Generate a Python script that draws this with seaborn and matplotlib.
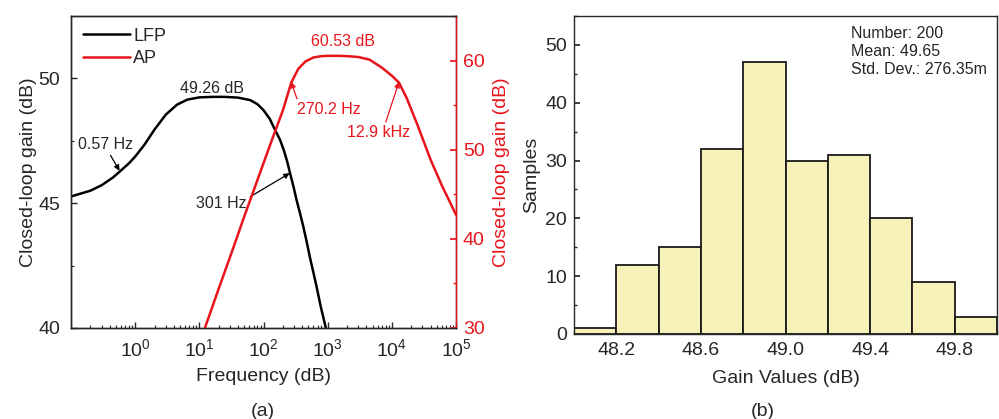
import matplotlib
matplotlib.use('Agg')
import matplotlib.pyplot as plt
import seaborn as sns
import numpy as np
from matplotlib.ticker import LogLocator, NullFormatter, MultipleLocator, FixedLocator

sns.set_theme(style='ticks')
plt.rcParams['font.family'] = ['Liberation Sans', 'DejaVu Sans']

# (a) closed-loop gain
lfp_freq = [0.1, 0.2, 0.3, 0.45, 0.57, 0.8, 1.0, 1.4, 2.0, 3.0, 4.5, 6.5, 10, 16, 25, 40,
            62, 80, 99, 125, 151, 180, 206, 232, 259, 292, 327, 370, 417, 470, 525, 595,
            670, 780, 935]
lfp_gain = [45.27, 45.5, 45.72, 46.03, 46.26, 46.6, 46.87, 47.35, 47.95, 48.55, 48.95, 49.15,
            49.24, 49.26, 49.26, 49.23, 49.13, 48.97, 48.74, 48.38, 47.94, 47.55, 47.14,
            46.7, 46.2, 45.68, 45.13, 44.6, 44.06, 43.46, 42.86, 42.25, 41.66, 40.85, 40.0]
ap_freq = [12.2, 20, 35, 50, 75, 100, 140, 200, 270.2, 350, 450, 600, 800, 1000, 1500,
           2000, 3000, 4500, 7000, 10000, 12900, 17000, 25000, 40000, 60000, 100000]
ap_gain = [30.0, 34.4, 39.3, 42.5, 46.0, 48.5, 51.4, 54.4, 57.53, 59.1, 59.9, 60.35, 60.5,
           60.53, 60.53, 60.5, 60.4, 60.1, 59.2, 58.3, 57.53, 55.8, 52.8, 48.9, 46.0, 42.7]

# (b) histogram of 200 samples
bin_edges = [48.0, 48.2, 48.4, 48.6, 48.8, 49.0, 49.2, 49.4, 49.6, 49.8, 50.0]
counts = [1, 12, 15, 32, 47, 30, 31, 20, 9, 3]
bin_centers = [(a + b) / 2 for a, b in zip(bin_edges[:-1], bin_edges[1:])]

red = '#e8141b'
fs = 14
afs = 11.5

fig = plt.figure(figsize=(9.99, 4.19), dpi=100)

# ---------- panel (a) ----------
ax1 = fig.add_axes([0.0711, 0.2172, 0.3854, 0.7446])
sns.lineplot(x=lfp_freq, y=lfp_gain, ax=ax1, color='black', linewidth=1.8, label='LFP')
ax2 = ax1.twinx()
sns.lineplot(x=ap_freq, y=ap_gain, ax=ax2, color=red, linewidth=1.8, label='AP')

ax1.set_xscale('log')
ax1.set_xlim(0.1, 1e5)
ax1.xaxis.set_major_locator(FixedLocator([1, 10, 100, 1e3, 1e4, 1e5]))
ax1.xaxis.set_minor_locator(LogLocator(base=10, subs=np.arange(2, 10), numticks=20))
ax1.xaxis.set_minor_formatter(NullFormatter())
ax1.set_ylim(40, 52.5)
ax1.set_yticks([40, 45, 50])
ax1.yaxis.set_minor_locator(MultipleLocator(2.5))
ax1.set_xlabel('Frequency (dB)', fontsize=fs, labelpad=6)
ax1.set_ylabel('Closed-loop gain (dB)', fontsize=fs, labelpad=1)
ax1.tick_params(which='major', direction='in', length=4, labelsize=fs, width=1)
ax1.tick_params(which='minor', direction='in', length=2, width=0.8)
ax1.tick_params(axis='y', which='major', pad=8)
ax1.tick_params(axis='x', which='major', pad=7)

ax2.set_ylim(30, 65)
ax2.set_yticks([30, 40, 50, 60])
ax2.yaxis.set_minor_locator(MultipleLocator(5))
ax2.set_ylabel('Closed-loop gain (dB)', color=red, fontsize=fs, labelpad=6)
ax2.tick_params(axis='y', which='major', direction='in', length=4, colors=red,
                labelsize=fs, pad=5)
ax2.tick_params(axis='y', which='minor', direction='in', length=2, colors=red)

for ax in (ax1, ax2):
    for s in ax.spines.values():
        s.set_linewidth(1.0)
ax2.spines['right'].set_color(red)

h1, l1 = ax1.get_legend_handles_labels()
h2, l2 = ax2.get_legend_handles_labels()
ax2.get_legend().remove()
ax1.legend(h1 + h2, l1 + l2, loc='upper left', frameon=False, fontsize=13,
           handlelength=2.6, handletextpad=0.2, borderaxespad=0.25, labelspacing=0.3)

ax1.text(16, 49.31, '49.26 dB', ha='center', va='bottom', fontsize=afs)
ax1.annotate('0.57 Hz', xy=(0.57, 46.3), xytext=(0.13, 47.35), fontsize=afs,
             ha='left', va='center',
             arrowprops=dict(arrowstyle='-|>', color='black', lw=0.9, mutation_scale=8,
                             shrinkA=0, shrinkB=0, relpos=(0.55, 0)))
ax1.annotate('301 Hz', xy=(255, 46.2), xytext=(9, 45.0), fontsize=afs,
             ha='left', va='center',
             arrowprops=dict(arrowstyle='-|>', color='black', lw=0.9, mutation_scale=8,
                             shrinkA=0, shrinkB=0, relpos=(1.0, 0.8)))
ax2.text(1730, 61.25, '60.53 dB', ha='center', va='bottom', fontsize=afs, color=red)
ax2.annotate('270.2 Hz', xy=(270.2, 57.6), xytext=(330, 54.5), fontsize=afs, color=red,
             ha='left', va='center',
             arrowprops=dict(arrowstyle='-|>', color=red, lw=0.9, mutation_scale=8,
                             shrinkA=0, shrinkB=0, relpos=(0.02, 1.0)))
ax2.annotate('12.9 kHz', xy=(12900, 57.6), xytext=(1990, 51.9), fontsize=afs, color=red,
             ha='left', va='center',
             arrowprops=dict(arrowstyle='-|>', color=red, lw=0.9, mutation_scale=8,
                             shrinkA=0, shrinkB=0, relpos=(0.6, 1.0)))

fig.text(0.2635, 0.017, '(a)', ha='center', va='center', fontsize=fs)

# ---------- panel (b) ----------
ax3 = fig.add_axes([0.5746, 0.2029, 0.4234, 0.7589])
sns.histplot(x=bin_centers, weights=counts, bins=bin_edges, ax=ax3,
             color='#f6f1b8', edgecolor='#1a1a1a', linewidth=1.3, alpha=1)
ax3.set_xlim(48.0, 50.0)
ax3.set_ylim(0, 55)
ax3.set_xticks([48.2, 48.6, 49.0, 49.4, 49.8])
ax3.set_xticklabels(['48.2', '48.6', '49.0', '49.4', '49.8'])
ax3.set_yticks([0, 10, 20, 30, 40, 50])
ax3.yaxis.set_minor_locator(MultipleLocator(5))
ax3.xaxis.set_minor_locator(MultipleLocator(0.2))
ax3.set_xlabel('Gain Values (dB)', fontsize=fs, labelpad=8)
ax3.set_ylabel('Samples', fontsize=fs)
ax3.tick_params(which='major', direction='in', length=4, labelsize=fs)
ax3.tick_params(which='minor', direction='in', length=2)
ax3.tick_params(axis='x', which='major', pad=6)
ax3.tick_params(axis='y', which='major', pad=5)
for s in ax3.spines.values():
    s.set_linewidth(1.0)
ax3.text(0.655, 0.97, 'Number: 200\nMean: 49.65\nStd. Dev.: 276.35m',
         transform=ax3.transAxes, ha='left', va='top', fontsize=afs, linespacing=1.25)

fig.text(0.7635, 0.017, '(b)', ha='center', va='center', fontsize=fs)

fig.savefig('out.png', dpi=100)
